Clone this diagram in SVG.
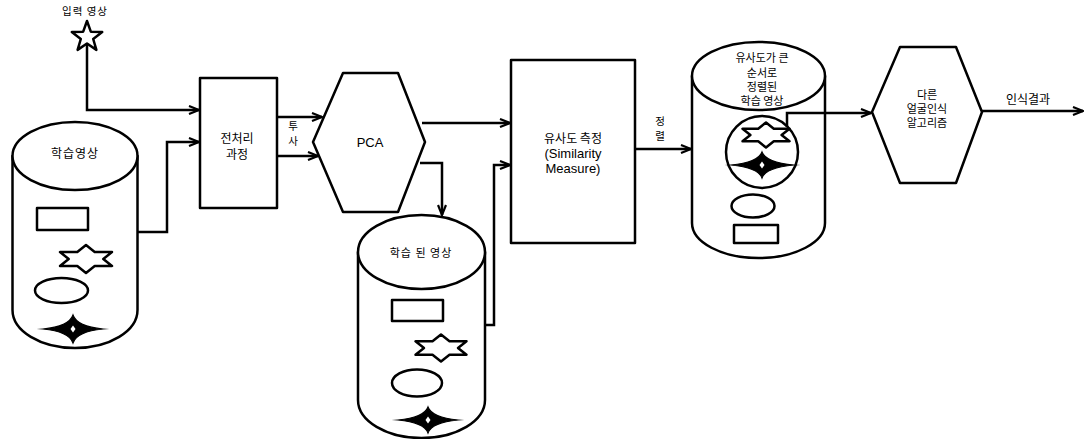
<svg xmlns="http://www.w3.org/2000/svg" width="1085" height="439" viewBox="0 0 1085 439">
<style>
.s{fill:#fff;stroke:#000;stroke-width:2.5;stroke-linejoin:round}
.k{fill:#000;stroke:#000;stroke-width:1.2;stroke-linejoin:miter;stroke-miterlimit:20}
.w{fill:#fff;stroke:none}
.c{fill:none;stroke:#000;stroke-width:2.5;stroke-linejoin:miter}
text{font-family:"Noto Sans CJK KR","Liberation Sans",sans-serif;font-size:12px;fill:#000;text-anchor:middle}
.sm{font-size:10.5px}
.md{font-size:11px}
.en{font-family:"Liberation Sans","Noto Sans CJK KR",sans-serif;font-size:13px}
</style>
<defs>
<marker id="ah" markerWidth="12" markerHeight="10" refX="11" refY="5" orient="auto" markerUnits="userSpaceOnUse">
<path d="M1,1 L11,5 L1,9" fill="none" stroke="#000" stroke-width="2.2"/>
</marker>
</defs>
<rect width="1085" height="439" fill="#fff"/>

<g id="input">
<text class="sm" x="85" y="15" letter-spacing="1">입력 영상</text>
<polygon class="s" points="87,21 90.8,31.7 102.2,32.1 93.2,39 96.4,49.9 87,43.5 77.6,49.9 80.8,39 71.8,32.1 83.2,31.7"/>
</g>

<g id="train-db">
<path class="s" d="M12.5,156 L12.5,310 A62.5,38 0 0 0 137.5,310 L137.5,156 Z"/>
<ellipse class="s" cx="75" cy="156" rx="62.5" ry="34"/>
<text x="75" y="158" letter-spacing="1">학습영상</text>
<rect class="s" x="37" y="208" width="51" height="22"/>
<polygon class="s" points="86,245 94.7,252 112,252 103.3,259 112,266 94.7,266 86,273 77.3,266 60,266 68.7,259 60,252 77.3,252"/>
<ellipse class="s" cx="61.5" cy="290.5" rx="26.5" ry="12.5"/>
<path class="k" d="M43,329 Q69,326.5 73,315 Q77,326.5 103,329 Q77,331.5 73,343 Q69,331.5 43,329 Z"/>
<path class="w" d="M70.5,329 L73,325.5 L75.5,329 L73,332.5 Z"/>
</g>

<g id="preprocess">
<rect class="s" x="200" y="78" width="77" height="130"/>
<text x="237" y="143">전처리</text>
<text x="237" y="159">과정</text>
</g>

<g id="pca">
<polygon class="s" points="343,73 398,73 425,142 398,212 343,212 313,142"/>
<text class="en" x="370" y="147" font-size="11">PCA</text>
</g>

<g id="trained-db">
<path class="s" d="M358,252 L358,400 A63.5,38 0 0 0 485,400 L485,252 Z"/>
<ellipse class="s" cx="421.5" cy="252" rx="63.5" ry="37"/>
<text class="md" x="421" y="257" letter-spacing="1">학습 된 영상</text>
<rect class="s" x="392" y="300" width="51" height="21"/>
<polygon class="s" points="441,334.5 449.5,341.3 466.5,341.3 458,348 466.5,354.8 449.5,354.8 441,361.5 432.5,354.8 415.5,354.8 424,348 415.5,341.3 432.5,341.3"/>
<ellipse class="s" cx="417" cy="383" rx="25" ry="13.5"/>
<path class="k" d="M398,420 Q424,417.5 428,407 Q432,417.5 458,420 Q432,422.5 428,433 Q424,422.5 398,420 Z"/>
<path class="w" d="M425.5,420 L428,416.5 L430.5,420 L428,423.5 Z"/>
</g>

<g id="similarity">
<rect class="s" x="511" y="60" width="124" height="183"/>
<text x="573" y="143">유사도 측정</text>
<text class="en" x="573" y="158">(Similarity</text>
<text class="en" x="573" y="173">Measure)</text>
</g>

<g id="sorted-db">
<path class="s" d="M692,76 L692,223 A66.5,35 0 0 0 825,223 L825,76 Z"/>
<ellipse class="s" cx="758.5" cy="76" rx="66.5" ry="34"/>
<text class="md" x="762" y="62">유사도가 큰</text>
<text class="md" x="762" y="77">순서로</text>
<text class="md" x="762" y="91">정렬된</text>
<text class="md" x="762" y="105">학습 영상</text>
<circle class="s" cx="762" cy="152" r="36"/>
<polygon class="s" points="766,122.5 773.8,128.8 789.5,128.8 781.6,135 789.5,141.3 773.8,141.3 766,147.5 758.2,141.3 742.5,141.3 750.4,135 742.5,128.8 758.2,128.8"/>
<path class="k" d="M731,165 Q758,162.5 762,152 Q766,162.5 794,165 Q766,167.5 762,178 Q758,167.5 731,165 Z"/>
<path class="w" d="M759.5,165 L762,161.5 L764.5,165 L762,168.5 Z"/>
<ellipse class="s" cx="753" cy="206" rx="21.5" ry="11.5"/>
<rect class="s" x="734" y="225" width="44" height="18"/>
</g>

<g id="other-algo">
<polygon class="s" points="900,47 956,47 982,112 956,183 900,183 872,112"/>
<text class="md" x="927" y="99">다른</text>
<text class="md" x="927" y="113">얼굴인식</text>
<text class="md" x="927" y="127">알고리즘</text>
</g>

<g id="labels">
<text class="sm" x="293" y="130">투</text>
<text class="sm" x="293" y="145">사</text>
<text class="sm" x="660" y="125">정</text>
<text class="sm" x="660" y="140">렬</text>
<text x="1028" y="104">인식결과</text>
</g>

<g id="connectors">
<polyline class="c" points="87,44 87,110 199,110" marker-end="url(#ah)"/>
<polyline class="c" points="138,232 167,232 167,142 199,142" marker-end="url(#ah)"/>
<polyline class="c" points="277,117 322,117" marker-end="url(#ah)"/>
<polyline class="c" points="277,156 318,156" marker-end="url(#ah)"/>
<polyline class="c" points="422,123 510,123" marker-end="url(#ah)"/>
<polyline class="c" points="420,163 442,163 442,215" marker-end="url(#ah)"/>
<polyline class="c" points="485,325 494,325 494,165 510,165" marker-end="url(#ah)"/>
<polyline class="c" points="635,149 691,149" marker-end="url(#ah)"/>
<polyline class="c" points="787,127 787,113 871,113" marker-end="url(#ah)"/>
<polyline class="c" points="982,111 1083,111" marker-end="url(#ah)"/>
</g>
</svg>
